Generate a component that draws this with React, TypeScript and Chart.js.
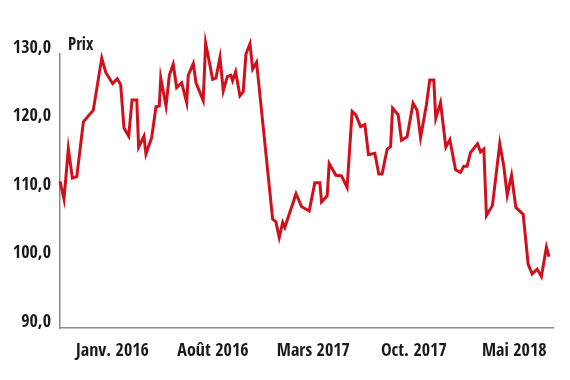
import { useEffect, useRef } from "react";
import { Chart, registerables } from "chart.js";

Chart.register(...registerables);

// x: months since January 2016 (fractional), y: price
const months = [
  -3.66, -3.38, -3.08, -2.8, -2.49, -2.03, -1.34, -0.75, -0.47, 0.01,
  0.33, 0.57, 0.8, 1.13, 1.36, 1.69, 1.82, 2.19, 2.33, 2.73,
  3.03, 3.26, 3.36, 3.73, 3.96, 4.23, 4.47, 4.82, 5.17, 5.28,
  5.63, 5.82, 6.32, 6.49, 6.98, 7.21, 7.49, 7.72, 8.0, 8.25,
  8.37, 8.58, 8.88, 9.11, 9.3, 9.58, 9.77, 10.04, 11.16, 11.39,
  11.62, 11.86, 12.01, 12.79, 13.18, 13.71, 14.1, 14.45, 14.57, 14.96,
  15.1, 15.57, 15.96, 16.35, 16.7, 16.96, 17.29, 17.59, 17.84, 18.28,
  18.56, 18.79, 19.14, 19.38, 19.52, 19.91, 20.14, 20.53, 20.95, 21.23,
  21.47, 21.88, 22.11, 22.39, 22.53, 22.86, 23.23, 23.51, 23.91, 24.25,
  24.48, 24.71, 24.95, 25.44, 25.65, 25.88, 26.06, 26.48, 26.99, 27.27,
  27.51, 27.81, 28.11, 28.62, 28.97, 29.25, 29.6, 29.89, 30.24, 30.42,
];

const prices = [
  111.4, 108.8, 116.2, 111.9, 112.1, 120.1, 121.8, 129.4, 127.3, 125.7,
  126.4, 125.5, 119.2, 118.0, 123.3, 123.3, 116.4, 118.0, 115.4, 117.8,
  122.3, 122.4, 126.5, 122.4, 126.9, 128.5, 125.1, 125.8, 122.9, 126.9,
  128.6, 125.8, 123.2, 131.6, 126.3, 126.5, 129.5, 124.6, 126.7, 126.9,
  126.1, 127.4, 123.9, 124.5, 130.0, 131.5, 127.8, 128.8, 105.9, 105.5,
  103.2, 105.4, 104.7, 109.6, 107.7, 107.1, 111.2, 111.2, 108.4, 109.3,
  114.0, 112.3, 112.2, 110.5, 121.6, 121.1, 119.4, 119.7, 115.3, 115.5,
  112.5, 112.5, 116.1, 116.5, 122.1, 121.1, 117.4, 117.9, 122.8, 121.8,
  117.8, 122.6, 126.2, 126.2, 120.6, 122.9, 116.4, 117.5, 113.1, 112.7,
  113.6, 113.6, 115.6, 116.9, 115.7, 116.1, 106.4, 107.9, 116.9, 113.6,
  109.4, 112.3, 107.6, 106.6, 99.3, 97.9, 98.6, 97.5, 101.8, 100.4,
];

const tickMonths = [0, 7, 14, 21, 28];
const tickLabels = ["Janv. 2016", "Août 2016", "Mars 2017", "Oct. 2017", "Mai 2018"];
const yTicks = [90, 100, 110, 120, 130];
const unitLabel = "Prix";

const FONT = "'Open Sans Condensed', 'Roboto Condensed', sans-serif";
const TEXT = "#1a1a1a";
const RED = "#d0111c";
const AXIS = "#8a8a8a";

export default function App() {
  const ref = useRef<HTMLCanvasElement>(null);

  useEffect(() => {
    if (!ref.current) return;
    const unitPlugin = {
      id: "unitLabel",
      afterDraw(chart: any) {
        const { ctx, chartArea } = chart;
        ctx.save();
        ctx.font = `bold 17px ${FONT}`;
        ctx.fillStyle = TEXT;
        ctx.textAlign = "left";
        ctx.textBaseline = "alphabetic";
        ctx.fillText(unitLabel, chartArea.left + 8, chartArea.top - 4);
        ctx.restore();
      },
    };

    const chart = new Chart(ref.current, {
      type: "line",
      data: {
        datasets: [
          {
            data: months.map((m, i) => ({ x: m, y: prices[i] })),
            borderColor: RED,
            borderWidth: 3,
            pointRadius: 0,
            tension: 0,
            fill: false,
            clip: false as any,
          },
        ],
      },
      options: {
        responsive: false,
        animation: false,
        layout: { padding: { top: 54, right: 17, bottom: 0, left: 0 } },
        plugins: { legend: { display: false }, tooltip: { enabled: false } },
        scales: {
          x: {
            type: "linear",
            min: -3.66,
            max: 30.7,
            grid: { display: false, drawTicks: false },
            border: { display: true, color: AXIS, width: 1.5 },
            afterBuildTicks: (scale: any) => {
              scale.ticks = tickMonths.map((v) => ({ value: v }));
            },
            afterFit: (scale: any) => {
              scale.height = 52;
            },
            ticks: {
              autoSkip: false,
              maxRotation: 0,
              padding: 12,
              color: TEXT,
              font: { family: FONT, size: 18, weight: "bold" },
              callback: (_v: any, i: number) => tickLabels[i],
            },
          },
          y: {
            type: "linear",
            min: 90,
            max: 130,
            grid: { display: false, drawTicks: false },
            border: { display: true, color: AXIS, width: 1.5 },
            afterBuildTicks: (scale: any) => {
              scale.ticks = yTicks.map((v) => ({ value: v }));
            },
            afterFit: (scale: any) => {
              scale.width = 60;
            },
            ticks: {
              padding: 9,
              labelOffset: -6,
              color: TEXT,
              font: { family: FONT, size: 18, weight: "bold" },
              callback: (v: any) => Number(v).toFixed(1).replace(".", ","),
            },
          },
        },
      },
      plugins: [unitPlugin],
    });
    return () => chart.destroy();
  }, []);

  return (
    <div style={{ position: "absolute", left: 0, top: 0, width: 570, height: 380 }}>
      <canvas ref={ref} width={570} height={380} style={{ display: "block" }} />
    </div>
  );
}
